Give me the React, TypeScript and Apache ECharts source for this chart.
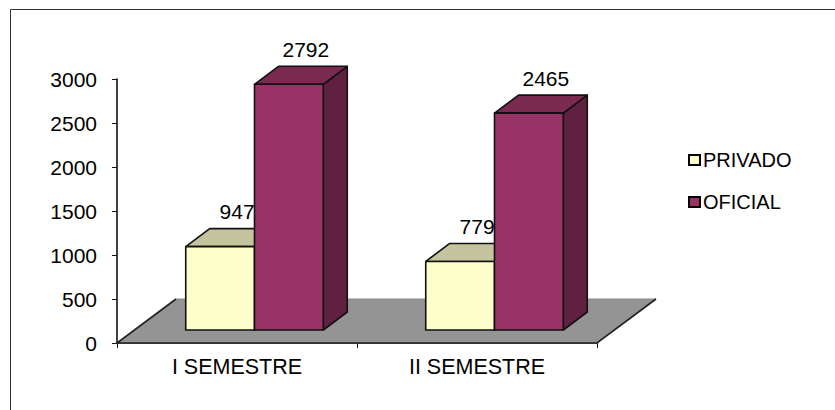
import React, { useEffect, useRef } from "react";
import * as echarts from "echarts";

const categories = ["I SEMESTRE", "II SEMESTRE"];
const privado = [947, 779];
const oficial = [2792, 2465];
const seriesNames = ["PRIVADO", "OFICIAL"];
const yTicks = { min: 0, max: 3000, interval: 500 };

const FONT = "'Liberation Sans', Arial, sans-serif";
const INK = "#111111";
const BASE_LIFT = 13;
const BAR_SHIFT = 17.5;
const BAR_RATIO = 0.2865;
const BAR_DX = 24;
const BAR_DY = -18;
const FLOOR_DX = 59;
const FLOOR_DY = -44;

function barRenderer(side: number, front: string, top: string, right: string) {
  return (_: any, api: any) => {
    const cat = api.value(0);
    const val = api.value(1);
    const [cx, yVal] = api.coord([cat, val]);
    const [, y0] = api.coord([cat, 0]);
    const w = api.size([1, 0])[0] * BAR_RATIO;
    const x0 = cx + BAR_SHIFT + (side === 0 ? -w : 0);
    const x1 = x0 + w;
    const yb = y0 - BASE_LIFT;
    const yt = yVal - BASE_LIFT;
    const line = { stroke: INK, lineWidth: 1.6, lineJoin: "round" };
    return {
      type: "group",
      children: [
        {
          type: "polygon",
          shape: { points: [[x1, yb], [x1 + BAR_DX, yb + BAR_DY], [x1 + BAR_DX, yt + BAR_DY], [x1, yt]] },
          style: { fill: right, ...line },
        },
        {
          type: "polygon",
          shape: { points: [[x0, yt], [x0 + BAR_DX, yt + BAR_DY], [x1 + BAR_DX, yt + BAR_DY], [x1, yt]] },
          style: { fill: top, ...line },
        },
        {
          type: "rect",
          shape: { x: x0, y: yt, width: w, height: yb - yt },
          style: { fill: front, ...line },
        },
        {
          type: "text",
          style: {
            x: (x0 + x1) / 2 + 17,
            y: yt - 35,
            text: String(val),
            fill: "#000",
            fontSize: 21,
            fontFamily: FONT,
            align: "center",
            verticalAlign: "middle",
          },
        },
      ],
    };
  };
}

function floorRenderer(_: any, api: any) {
  const [cx, y] = api.coord([0, 0]);
  const band = api.size([1, 0])[0];
  const l = cx - band / 2;
  const r = l + band * categories.length;
  return {
    type: "group",
    children: [
      {
        type: "polygon",
        shape: { points: [[l, y], [l + FLOOR_DX, y + FLOOR_DY], [r + FLOOR_DX, y + FLOOR_DY], [r, y]] },
        style: { fill: "#949494", stroke: "#8a8a8a", lineWidth: 1 },
      },
      {
        type: "polyline",
        shape: { points: [[l + FLOOR_DX, y + FLOOR_DY], [l, y], [r, y], [r + FLOOR_DX, y + FLOOR_DY]] },
        style: { fill: "none", stroke: "#222", lineWidth: 1.6 },
      },
    ],
  };
}

export default function App() {
  const ref = useRef<HTMLDivElement>(null);
  useEffect(() => {
    const chart = echarts.init(ref.current!, null, { renderer: "svg" });
    chart.setOption({
      animation: false,
      backgroundColor: "#fff",
      grid: { left: 117, top: 79, width: 480, height: 264 },
      graphic: [
        {
          type: "polyline",
          shape: { points: [[10.5, 410], [10.5, 9.5], [835, 9.5]] },
          style: { fill: "none", stroke: "#333", lineWidth: 1 },
        },
      ],
      legend: {
        orient: "vertical",
        left: 683,
        top: 145,
        itemWidth: 11,
        itemHeight: 10,
        itemGap: 22,
        icon: "rect",
        data: seriesNames,
        selectedMode: false,
        textStyle: { fontSize: 20, fontFamily: FONT, color: "#000", padding: [0, 0, 0, -2] },
      },
      xAxis: {
        type: "category",
        data: categories,
        axisLine: { lineStyle: { color: INK, width: 1.6 } },
        axisTick: { show: true, length: 5, lineStyle: { color: INK } },
        axisLabel: { fontSize: 21.5, fontFamily: FONT, color: "#000", margin: 13 },
      },
      yAxis: {
        type: "value",
        ...yTicks,
        splitLine: { show: false },
        axisLine: { show: true, lineStyle: { color: INK, width: 1.6 } },
        axisTick: { show: true, length: 5, lineStyle: { color: INK } },
        axisLabel: {
          fontSize: 21,
          fontFamily: FONT,
          color: "#000",
          margin: 20,
          formatter: (v: number) => String(v),
        },
      },
      series: [
        {
          type: "custom",
          name: "floor",
          silent: true,
          z: 1,
          clip: false,
          data: [[0, 0]],
          encode: { x: 0, y: 1 },
          renderItem: floorRenderer,
        },
        {
          type: "custom",
          name: seriesNames[0],
          z: 3,
          clip: false,
          itemStyle: { color: "#FFFFCC", borderColor: "#000", borderWidth: 2 },
          data: privado.map((v, i) => [i, v]),
          encode: { x: 0, y: 1 },
          renderItem: barRenderer(0, "#FFFFCC", "#C4C49E", "#A8A888"),
        },
        {
          type: "custom",
          name: seriesNames[1],
          z: 4,
          clip: false,
          itemStyle: { color: "#993366", borderColor: "#000", borderWidth: 2 },
          data: oficial.map((v, i) => [i, v]),
          encode: { x: 0, y: 1 },
          renderItem: barRenderer(1, "#993366", "#7A2950", "#60203F"),
        },
      ],
    });
    return () => chart.dispose();
  }, []);
  return <div ref={ref} style={{ position: "absolute", left: 0, top: 0, width: 835, height: 410 }} />;
}
